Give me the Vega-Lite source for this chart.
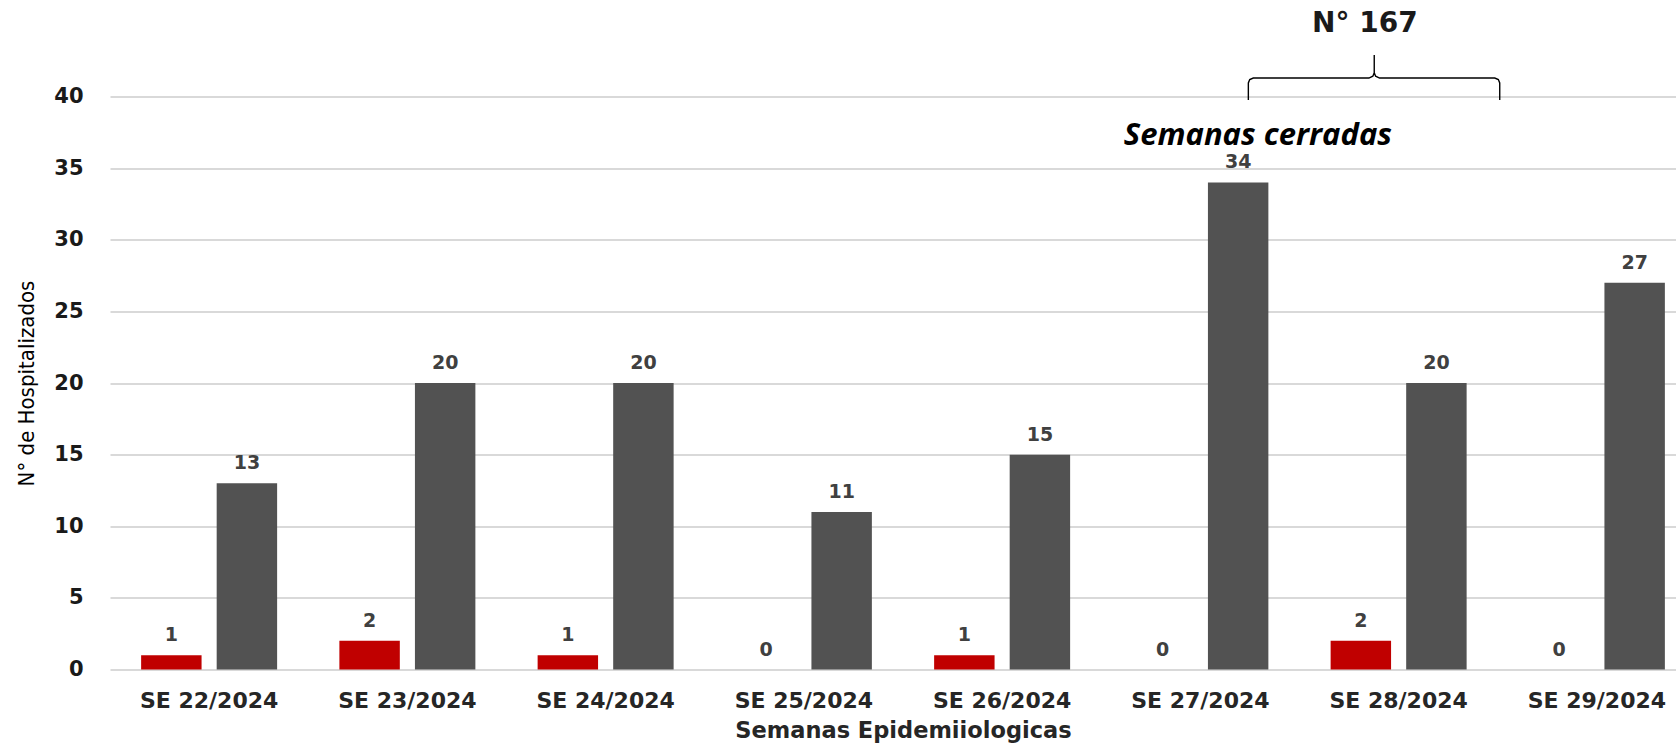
{
  "$schema": "https://vega.github.io/schema/vega-lite/v6.json",
  "width": 1566,
  "height": 573,
  "autosize": {"type": "none"},
  "padding": {"left": 110, "top": 96.5, "right": 0, "bottom": 78.5},
  "background": "white",
  "config": {"view": {"stroke": null}},
  "datasets": {
    "barras": [
      {"semana": "SE 22/2024", "serie": "Fallecidos", "valor": 1},
      {"semana": "SE 22/2024", "serie": "Hospitalizados", "valor": 13},
      {"semana": "SE 23/2024", "serie": "Fallecidos", "valor": 2},
      {"semana": "SE 23/2024", "serie": "Hospitalizados", "valor": 20},
      {"semana": "SE 24/2024", "serie": "Fallecidos", "valor": 1},
      {"semana": "SE 24/2024", "serie": "Hospitalizados", "valor": 20},
      {"semana": "SE 25/2024", "serie": "Fallecidos", "valor": 0},
      {"semana": "SE 25/2024", "serie": "Hospitalizados", "valor": 11},
      {"semana": "SE 26/2024", "serie": "Fallecidos", "valor": 1},
      {"semana": "SE 26/2024", "serie": "Hospitalizados", "valor": 15},
      {"semana": "SE 27/2024", "serie": "Fallecidos", "valor": 0},
      {"semana": "SE 27/2024", "serie": "Hospitalizados", "valor": 34},
      {"semana": "SE 28/2024", "serie": "Fallecidos", "valor": 2},
      {"semana": "SE 28/2024", "serie": "Hospitalizados", "valor": 20},
      {"semana": "SE 29/2024", "serie": "Fallecidos", "valor": 0},
      {"semana": "SE 29/2024", "serie": "Hospitalizados", "valor": 27}
    ],
    "llave": [
      {"orden": 1, "x": 27.242, "y": 39.76},
      {"orden": 2, "x": 27.242, "y": 40.95},
      {"orden": 3, "x": 27.249, "y": 41.18},
      {"orden": 4, "x": 27.267, "y": 41.29},
      {"orden": 5, "x": 27.850, "y": 41.29},
      {"orden": 6, "x": 27.870, "y": 41.42},
      {"orden": 7, "x": 27.877, "y": 41.65},
      {"orden": 8, "x": 27.877, "y": 42.90},
      {"orden": 9, "x": 27.877, "y": 41.65},
      {"orden": 10, "x": 27.884, "y": 41.42},
      {"orden": 11, "x": 27.904, "y": 41.29},
      {"orden": 12, "x": 28.485, "y": 41.29},
      {"orden": 13, "x": 28.503, "y": 41.18},
      {"orden": 14, "x": 28.510, "y": 40.95},
      {"orden": 15, "x": 28.510, "y": 39.76}
    ],
    "notas": [
      {"id": "total", "texto": "N° 167", "x": 27.83, "y": 44.5},
      {"id": "cerradas", "texto": "Semanas cerradas", "x": 27.29, "y": 36.6}
    ]
  },
  "resolve": {
    "scale": {"x": "independent"},
    "axis": {"x": "independent", "y": "independent"}
  },
  "layer": [
    {
      "data": {"name": "barras"},
      "encoding": {
        "x": {
          "field": "semana",
          "type": "nominal",
          "sort": null,
          "scale": {"range": [0, 1586], "paddingInner": 0.314, "paddingOuter": 0.157},
          "axis": {
            "title": "Semanas Epidemiiologicas",
            "titleFont": "DejaVu Sans",
            "titleFontWeight": "bold",
            "titleFontSize": 22.5,
            "titleColor": "#262626",
            "titlePadding": 8,
            "labelFont": "DejaVu Sans",
            "labelFontWeight": "bold",
            "labelFontSize": 22,
            "labelColor": "#262626",
            "labelAngle": 0,
            "labelPadding": 21,
            "ticks": false,
            "domain": false,
            "grid": false
          }
        },
        "xOffset": {
          "field": "serie",
          "type": "nominal",
          "scale": {"domain": ["Fallecidos", "Hospitalizados"], "paddingInner": 0.2, "paddingOuter": 0}
        },
        "y": {
          "field": "valor",
          "type": "quantitative",
          "scale": {"domain": [0, 40], "nice": false},
          "axis": {
            "title": "N° de Hospitalizados",
            "titleFont": "DejaVu Sans Condensed, DejaVu Sans",
            "titleFontWeight": "normal",
            "titleFontSize": 22,
            "titleColor": "#000000",
            "titlePadding": 15,
            "labelFont": "DejaVu Sans",
            "labelFontWeight": "bold",
            "labelFontSize": 21,
            "labelColor": "#1a1a1a",
            "labelPadding": 27,
            "values": [0, 5, 10, 15, 20, 25, 30, 35, 40],
            "ticks": false,
            "domain": false,
            "grid": true,
            "gridColor": "#d9d9d9",
            "gridWidth": 2
          }
        }
      },
      "layer": [
        {
          "mark": {"type": "bar"},
          "encoding": {
            "color": {
              "field": "serie",
              "type": "nominal",
              "scale": {"domain": ["Fallecidos", "Hospitalizados"], "range": ["#C00000", "#525252"]},
              "legend": null
            }
          }
        },
        {
          "mark": {
            "type": "text",
            "font": "DejaVu Sans",
            "fontWeight": "bold",
            "fontSize": 19,
            "color": "#404040",
            "baseline": "alphabetic",
            "dy": -14
          },
          "encoding": {"text": {"field": "valor", "type": "quantitative"}}
        }
      ]
    },
    {
      "layer": [
        {
          "data": {"name": "llave"},
          "mark": {"type": "line", "color": "#000000", "strokeWidth": 1.4, "interpolate": "linear", "clip": false},
          "encoding": {
            "x": {"field": "x", "type": "quantitative", "scale": {"domain": [21.5, 29.5], "range": [0, 1586], "nice": false, "zero": false}, "axis": null},
            "y": {"field": "y", "type": "quantitative", "axis": null},
            "order": {"field": "orden", "type": "quantitative"}
          }
        },
        {
          "data": {"name": "notas"},
          "transform": [{"filter": "datum.id === 'total'"}],
          "mark": {"type": "text", "font": "DejaVu Sans", "fontWeight": "bold", "fontSize": 28, "color": "#1a1a1a", "baseline": "alphabetic", "align": "center"},
          "encoding": {
            "x": {"field": "x", "type": "quantitative", "scale": {"domain": [21.5, 29.5], "range": [0, 1586], "nice": false, "zero": false}, "axis": null},
            "y": {"field": "y", "type": "quantitative", "axis": null},
            "text": {"field": "texto", "type": "nominal"}
          }
        },
        {
          "data": {"name": "notas"},
          "transform": [{"filter": "datum.id === 'cerradas'"}],
          "mark": {"type": "text", "font": "Open Sans", "fontWeight": "bold", "fontStyle": "italic", "fontSize": 31, "color": "#000000", "baseline": "alphabetic", "align": "center"},
          "encoding": {
            "x": {"field": "x", "type": "quantitative", "scale": {"domain": [21.5, 29.5], "range": [0, 1586], "nice": false, "zero": false}, "axis": null},
            "y": {"field": "y", "type": "quantitative", "axis": null},
            "text": {"field": "texto", "type": "nominal"}
          }
        }
      ]
    }
  ]
}
